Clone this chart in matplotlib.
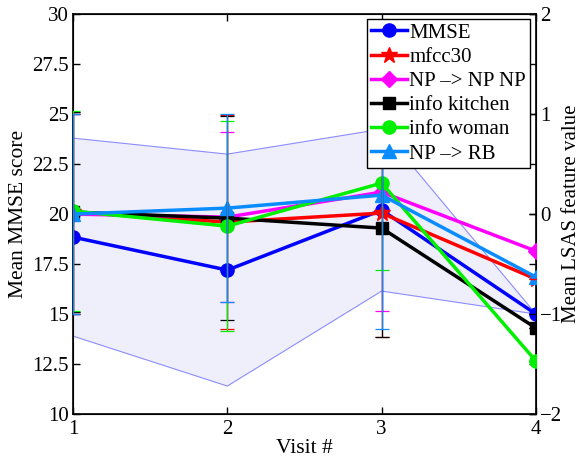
import matplotlib
matplotlib.use("Agg")
import matplotlib.pyplot as plt
from matplotlib import font_manager
import numpy as np

# pick a Times-like serif that is actually installed
serif_name = 'DejaVu Serif'
for name in ['Liberation Serif', 'Times New Roman', 'Nimbus Roman', 'DejaVu Serif']:
    try:
        font_manager.findfont(font_manager.FontProperties(family=name), fallback_to_default=False)
        serif_name = name
        break
    except Exception:
        pass
plt.rcParams['font.family'] = 'serif'
plt.rcParams['font.serif'] = [serif_name, 'DejaVu Serif']

# visits on the x axis
visits = [1, 2, 3, 4]

# MMSE (left axis): mean and standard deviation band
mmse_mean = [18.85, 17.2, 20.2, 15.0]
mmse_std = [4.95, 5.8, 4.05, 0.0]

# LSAS features (right axis): means and standard deviations
mfcc30_mean = [0.02, -0.08, 0.01, -0.65]
mfcc30_std = [1.0, 1.07, 1.24, 0.0]
npnp_mean = [0.0, -0.03, 0.22, -0.37]
npnp_std = [1.0, 0.85, 1.19, 0.0]
kitchen_mean = [0.02, -0.04, -0.14, -1.14]
kitchen_std = [1.0, 1.02, 1.09, 0.0]
woman_mean = [0.03, -0.12, 0.31, -1.47]
woman_std = [1.0, 1.05, 0.87, 0.0]
nprb_mean = [0.0, 0.06, 0.19, -0.63]
nprb_std = [1.0, 0.94, 1.34, 0.0]

labels = ['MMSE', 'mfcc30', 'NP \u2013> NP NP', 'info kitchen', 'info woman', 'NP \u2013> RB']

fig = plt.figure(figsize=(5.82, 4.57), dpi=100)
ax = fig.add_axes([0.1254, 0.094, 0.7955, 0.875])
ax2 = ax.twinx()

# left axis: MMSE with shaded std band
lo = np.array(mmse_mean) - np.array(mmse_std)
hi = np.array(mmse_mean) + np.array(mmse_std)
ax.fill_between(visits, lo, hi, facecolor='#efeffb', edgecolor='none', zorder=1)
ax.plot(visits, lo, color='#8c8cff', lw=0.8, zorder=2)
ax.plot(visits, hi, color='#8c8cff', lw=0.8, zorder=2)
h_mmse, = ax.plot(visits, mmse_mean, color='#0000ff', lw=2.5, marker='o', ms=9.5, zorder=3)

ax.set_xlim(1, 4)
ax.set_ylim(10, 30)
ax.set_xticks(visits)
ax.set_yticks([10, 12.5, 15, 17.5, 20, 22.5, 25, 27.5, 30])
ax.set_yticklabels(['10', '12.5', '15', '17.5', '20', '22.5', '25', '27.5', '30'])
ax.set_xlabel('Visit #', fontsize=15.5, labelpad=0)
ax.set_ylabel('Mean MMSE score', fontsize=15.5, labelpad=3)
ax.tick_params(direction='in', length=5, width=1, labelsize=15, top=True, right=True, pad=3)
ax.tick_params(axis='x', pad=4)

# right axis: LSAS features with error bars
series = [
    (mfcc30_mean, mfcc30_std, '#ff0000', '*', 12),
    (npnp_mean, npnp_std, '#ff00ff', 'D', 8),
    (kitchen_mean, kitchen_std, '#000000', 's', 8),
    (woman_mean, woman_std, '#00f000', 'o', 9.5),
    (nprb_mean, nprb_std, '#0a8cff', '^', 10),
]
handles = [h_mmse]
for m, s, c, mk, ms in series:
    h, = ax2.plot(visits, m, color=c, lw=2.5, marker=mk, ms=ms, zorder=3)
    handles.append(h)
for m, s, c, mk, ms in series:
    ax2.errorbar(visits, m, yerr=s, fmt='none', ecolor=c, elinewidth=0.9,
                 capsize=5, capthick=0.9, zorder=4)

ax2.set_ylim(-2, 2)
ax2.set_yticks([-2, -1, 0, 1, 2])
ax2.set_yticklabels(['\u22122', '\u22121', '0', '1', '2'])
ax2.set_ylabel('Mean LSAS feature value', fontsize=15, labelpad=0)
ax2.tick_params(direction='in', length=5, width=1, labelsize=15, pad=3)

for sp in ax.spines.values():
    sp.set_linewidth(1.2)

leg = ax2.legend(handles, labels, loc='upper right', bbox_to_anchor=(0.988, 0.988),
                 fontsize=15, frameon=True, fancybox=False, framealpha=1,
                 edgecolor='black', handlelength=1.75, handletextpad=0.1,
                 labelspacing=0.22, borderpad=0.2, borderaxespad=0)
leg.get_frame().set_linewidth(1.0)
leg.set_zorder(10)

fig.savefig('out.png', dpi=100)
